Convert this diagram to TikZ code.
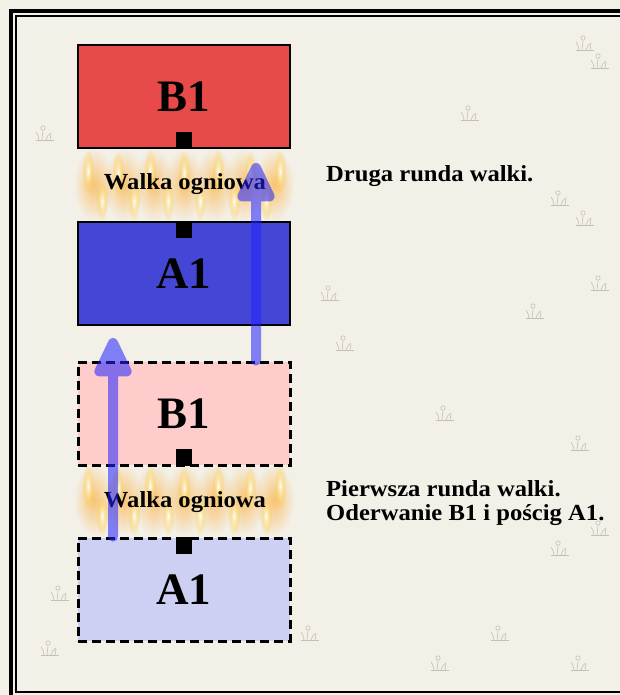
\documentclass[tikz,border=0pt]{standalone}
\usepackage{fontspec}
\setmainfont{Liberation Serif}
\newfontfamily\widefont{Liberation Serif}[FakeStretch=1.07]
\usetikzlibrary{arrows.meta,fadings}

\definecolor{parch}{HTML}{F3F0E8}
\definecolor{redunit}{HTML}{E84A4A}
\definecolor{blueunit}{HTML}{4447D6}
\definecolor{pinkunit}{HTML}{FFCCCC}
\definecolor{lilacunit}{HTML}{CDCFF3}
\definecolor{moveblue}{HTML}{2222FF}
\definecolor{sketch}{HTML}{B0AC9F}

\tikzfading[name=softball, inner color=transparent!0, outer color=transparent!100]

% one band of fire between two facing units, centred on height #1
\newcommand\firerow[1]{%
  \foreach \fx in {94,124,154,184,214,244,274}{
    \fill[orange!80!yellow, opacity=.5, path fading=softball] (\fx,#1) ellipse (20 and 36);
  }
  \foreach \fx in {88,150,218,280}{
    \shade[inner color=white, outer color=yellow!50!orange, path fading=softball] (\fx,#1-14) ellipse (6 and 22);
  }
  \foreach \fx in {118,184,250}{
    \shade[inner color=white, outer color=yellow!50!orange, path fading=softball] (\fx,#1-12) ellipse (6 and 22);
  }
  \foreach \fx in {102,134,168,200,234,266}{
    \shade[inner color=white, outer color=yellow!50!orange, path fading=softball] (\fx,#1+16) ellipse (6 and 20);
  }
}

% a faint pencilled tuft of grass at (#1,#2)
\newcommand\tuft[2]{%
  \begin{scope}[shift={(#1,#2)}, draw=sketch, line width=.6pt]
    \draw (-9,0) -- (9,0);
    \draw (-6,0) .. controls (-7,-5) .. (-9,-8);
    \draw (-3,0) -- (-2,-9);
    \draw (1,0) .. controls (3,-5) .. (6,-7);
    \draw (5,0) -- (6,-6);
    \draw (-2,-12) circle (2.2);
  \end{scope}
}

\begin{document}
\begin{tikzpicture}[x=1pt,y=-1pt,
  unitbox/.style={draw=black, line width=2.2pt, minimum width=212pt, minimum height=103pt,
    inner sep=0pt, font=\bfseries\fontsize{45}{45}\selectfont},
  ghostbox/.style={unitbox, line width=3pt, dash pattern=on 9pt off 5pt},
  notch/.style={fill=black, minimum width=16pt, minimum height=17pt, inner sep=0pt},
  firelabel/.style={font=\widefont\bfseries\fontsize{23}{23}\selectfont, inner sep=0pt, anchor=base},
  sidenote/.style={font=\widefont\bfseries\fontsize{23}{24}\selectfont, inner sep=0pt, anchor=base west},
  advance/.style={line width=10pt, line cap=round, draw=moveblue,
    -{Triangle[width=40pt,length=46pt,round]}}]

\useasboundingbox (0,0) rectangle (620,695);
\fill[parch] (0,0) rectangle (620,695);

% pencilled grass on the paper
\begin{scope}[opacity=.7]
  \tuft{585}{50} \tuft{600}{68} \tuft{470}{120} \tuft{560}{205} \tuft{585}{225}
  \tuft{600}{290} \tuft{535}{318} \tuft{345}{350} \tuft{445}{420} \tuft{580}{450}
  \tuft{600}{535} \tuft{560}{555} \tuft{500}{640} \tuft{440}{670} \tuft{580}{670}
  \tuft{60}{600} \tuft{50}{655} \tuft{310}{640} \tuft{330}{300} \tuft{45}{140}
\end{scope}

% double frame, running off the right and bottom edges
\begin{scope}
  \clip (0,0) rectangle (620,695);
  \draw[line width=4pt] (11,11) rectangle (629,697);
  \draw[line width=2.5pt] (16,16) rectangle (624,692);
\end{scope}

% fire between the units
\firerow{185}
\firerow{500}

% units after the pursuit
\node[unitbox, fill=redunit] (b1top) at (184,96.5) {B1};
\node[unitbox, fill=blueunit] (a1top) at (184,273.5) {A1};
% units in the first round
\node[ghostbox, fill=pinkunit] (b1low) at (184,413.5) {B1};
\node[ghostbox, fill=lilacunit] (a1low) at (184,589.5) {A1};

% facing marks
\node[notch, anchor=south] (nb1top) at (b1top.south) {};
\node[notch, anchor=north] (na1top) at (a1top.north) {};
\node[notch, anchor=south] (nb1low) at (b1low.south) {};
\node[notch, anchor=north] (na1low) at (a1low.north) {};

% fire labels
\node[firelabel] (fire2) at (185,189) {Walka ogniowa};
\node[firelabel] (fire1) at (185,507) {Walka ogniowa};

% round descriptions
\node[sidenote] (round2) at (326,182) {Druga runda walki.};
\node[sidenote] (round1a) at (326,496) {Pierwsza runda walki.};
\node[sidenote] (round1b) at (326,520) {Oderwanie B1 i pościg A1.};

% moves
\coordinate (m1from) at (a1low.north -| 113,0);
\coordinate (m1to) at (113,338);
\coordinate (m2from) at (b1low.north -| 256,0);
\coordinate (m2to) at (256,163);
\begin{scope}[transparency group, opacity=.55]
  \draw[advance] (m1from) -- (m1to);
\end{scope}
\begin{scope}[transparency group, opacity=.55]
  \draw[advance] (m2from) -- (m2to);
\end{scope}
\end{tikzpicture}
\end{document}
